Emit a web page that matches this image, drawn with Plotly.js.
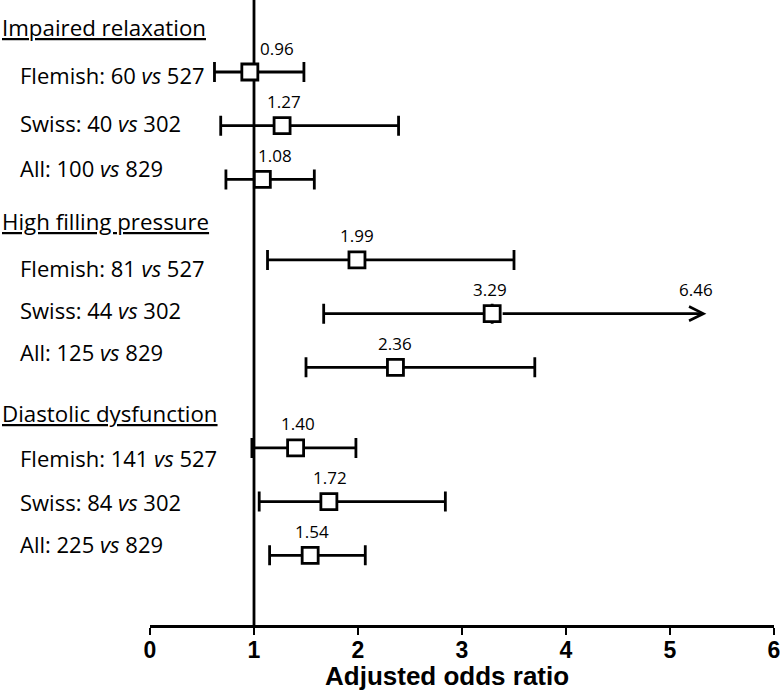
<!DOCTYPE html>
<html>
<head>
<meta charset="utf-8">
<script src="https://cdn.plot.ly/plotly-3.0.1.min.js"></script>
<style>html,body{margin:0;padding:0;background:#fff;}#chart{width:780px;height:695px;}</style>
</head>
<body>
<div id="chart"></div>
<script>
// ---- data ----
var groups = ["Impaired relaxation", "High filling pressure", "Diastolic dysfunction"];
var rowLabels = [
  "Flemish: 60 <i>vs</i> 527", "Swiss: 40 <i>vs</i> 302", "All: 100 <i>vs</i> 829",
  "Flemish: 81 <i>vs</i> 527", "Swiss: 44 <i>vs</i> 302", "All: 125 <i>vs</i> 829",
  "Flemish: 141 <i>vs</i> 527", "Swiss: 84 <i>vs</i> 302", "All: 225 <i>vs</i> 829"
];
var oddsRatio = [0.96, 1.27, 1.08, 1.99, 3.29, 2.36, 1.40, 1.72, 1.54];
var ciLow     = [0.62, 0.68, 0.73, 1.13, 1.67, 1.50, 0.98, 1.05, 1.15];
var ciHigh    = [1.48, 2.39, 1.58, 3.50, 6.46, 3.70, 1.98, 2.84, 2.07];
var xTickVals = [0, 1, 2, 3, 4, 5, 6];
var xTitle = "Adjusted odds ratio";

// ---- layout helpers (positions / styles) ----
var rowPos = [0, 1, 2, 3.5, 4.5, 5.5, 7, 8, 9];      // vertical slot of each row
var valueShift = [27, 2, 13, 0, -2, 0, 2, 1, 2];     // horizontal nudge of value labels (px)
var axisMax = 5.35;                                   // arrow end for truncated CI
var truncated = ciHigh.map(function (v) { return v > axisMax; });
var plotH = 625;
var labelPix = [75, 123, 168, 268, 310, 352, 458, 502, 544];
var headerPix = [27, 222, 413];
var labelFont = "Open Sans, Noto Sans, sans-serif";
var boldFont = "Liberation Sans, Arial, sans-serif";
var L = 150, R = 6, W = 780;
function px2paperX(p) { return (p - L) / (W - L - R); }
function px2paperY(p) { return 1 - p / plotH; }

var trace = {
  type: "scatter",
  mode: "markers",
  x: oddsRatio,
  y: rowPos,
  marker: { symbol: "square", size: 16, color: "#ffffff", line: { color: "#000", width: 2.8 } },
  error_x: {
    type: "data",
    symmetric: false,
    array: oddsRatio.map(function (v, i) { return truncated[i] ? 0 : ciHigh[i] - v; }),
    arrayminus: oddsRatio.map(function (v, i) { return v - ciLow[i]; }),
    color: "#000",
    thickness: 2.8,
    width: 10
  },
  hoverinfo: "x",
  showlegend: false,
  cliponaxis: false
};

var annotations = [];
// value labels
oddsRatio.forEach(function (v, i) {
  annotations.push({
    x: v, y: rowPos[i], xref: "x", yref: "y",
    text: v.toFixed(2), showarrow: false,
    yshift: 24, xshift: valueShift[i],
    font: { family: labelFont, size: 17, color: "#000" }
  });
});
// truncated CI arrows
oddsRatio.forEach(function (v, i) {
  if (!truncated[i]) return;
  annotations.push({
    x: axisMax, y: rowPos[i], ax: v, ay: rowPos[i],
    xref: "x", yref: "y", axref: "x", ayref: "y",
    text: "", showarrow: true, arrowhead: 5, arrowsize: 1.0, arrowwidth: 2.8,
    arrowcolor: "#000", startstandoff: 9, standoff: 0
  });
  annotations.push({
    x: axisMax, y: rowPos[i], xref: "x", yref: "y",
    text: ciHigh[i].toFixed(2), showarrow: false,
    yshift: 24, xshift: -10,
    font: { family: labelFont, size: 17, color: "#000" }
  });
});
// row labels
rowLabels.forEach(function (t, i) {
  annotations.push({
    x: px2paperX(18), y: px2paperY(labelPix[i]), xref: "paper", yref: "paper",
    xanchor: "left", yanchor: "middle", text: t, showarrow: false,
    font: { family: labelFont, size: 22, color: "#000" }
  });
});
// group headers
groups.forEach(function (g, i) {
  annotations.push({
    x: px2paperX(0), y: px2paperY(headerPix[i]), xref: "paper", yref: "paper",
    xanchor: "left", yanchor: "middle", text: "<u>" + g + "</u>", showarrow: false,
    font: { family: labelFont, size: 22.3, color: "#000" }
  });
});
// x-axis title
annotations.push({
  x: px2paperX(447), y: -51 / plotH, xref: "paper", yref: "paper",
  xanchor: "center", yanchor: "middle", text: "<b>" + xTitle + "</b>", showarrow: false,
  font: { family: boldFont, size: 26, color: "#000" }
});

var layout = {
  width: 780, height: 695,
  margin: { l: L, r: R, t: 0, b: 70, pad: 0 },
  paper_bgcolor: "#fff", plot_bgcolor: "#fff",
  xaxis: {
    range: [0, 6], tickvals: xTickVals, ticktext: xTickVals.map(String),
    showgrid: false, zeroline: false, showline: true, linecolor: "#000", linewidth: 2.8,
    ticks: "outside", ticklen: 7, tickwidth: 2.8, tickcolor: "#000",
    ticklabeloverflow: "allow", ticklabelstandoff: -4,
    tickfont: { family: boldFont, size: 23, color: "#000", weight: "bold" },
    fixedrange: true
  },
  yaxis: {
    range: [(plotH - 72) / 53.7, -72 / 53.7],
    visible: false, showgrid: false, zeroline: false, fixedrange: true
  },
  shapes: [{
    type: "line", xref: "x", yref: "paper", x0: 1, x1: 1, y0: 0, y1: 1,
    line: { color: "#000", width: 2.8 }, layer: "below"
  }],
  annotations: annotations
};

Plotly.newPlot("chart", [trace], layout, { displayModeBar: false, staticPlot: true });
</script>
</body>
</html>
